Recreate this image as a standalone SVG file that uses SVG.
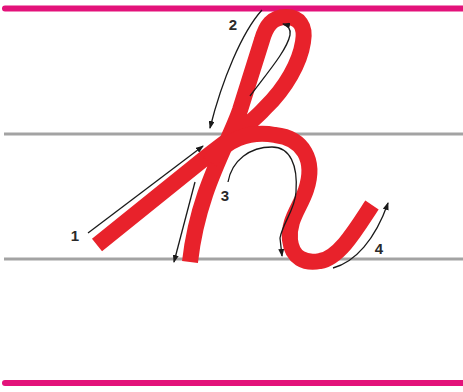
<svg xmlns="http://www.w3.org/2000/svg" width="463" height="392" viewBox="0 0 463 392">
<style>
.pink{stroke:#e3127a;stroke-width:6;stroke-linecap:round}
.gray{stroke:#a3a3a3;stroke-width:3}
.red{fill:none;stroke:#e8222b;stroke-width:16;stroke-linejoin:round;stroke-linecap:butt}
.arr{fill:none;stroke:#1a1a1a;stroke-width:1.3;marker-end:url(#ah)}
.lbl{font-family:"Liberation Sans",Arial,sans-serif;font-size:15px;font-weight:bold;fill:#2a2a2a;text-anchor:middle}
</style>
<defs>
<marker id="ah" markerWidth="8" markerHeight="6" refX="7" refY="3" orient="auto" markerUnits="userSpaceOnUse">
<path d="M0,0 L8,3 L0,6 Z" fill="#1a1a1a"/>
</marker>
</defs>
<g id="guides">
<line class="pink" x1="5" y1="8.5" x2="463" y2="8.5"/>
<line class="gray" x1="4" y1="134" x2="463" y2="134"/>
<line class="gray" x1="4" y1="259" x2="463" y2="259"/>
<line class="pink" x1="5" y1="383" x2="463" y2="383"/>
</g>
<g id="letter">
<path class="red" d="M97,245 L205,158 C225,142 250,125 265,108 C286,88 300,62 303,42 C306,26 299,17 286,17 C272,17 266,26 262,40 C255,62 248,85 240,110 C228,145 198,190 190,262"/>
<path class="red" d="M210,162 C224,140 250,130 275,135 C303,138 316,160 306,190 C300,208 288,220 290,240 C292,258 305,264 320,261 C340,258 358,226 372,205"/>
</g>
<g id="connectors">
<path class="arr" d="M88,233 L203,146"/>
<path class="arr" d="M250,96 C268,72 287,50 290,35 C291,28 287,25 283,24"/>
<path class="arr" d="M262,10 C242,32 222,80 210,128"/>
<path class="arr" d="M195,182 L174,262"/>
<path class="arr" d="M228,182 C232,160 250,147 272,147 C290,147 298,165 296,192 C295,210 283,222 280,238 L282,256"/>
<path class="arr" d="M333,268 C355,262 375,240 388,203"/>
</g>
<g id="labels">
<text class="lbl" x="75" y="241">1</text>
<text class="lbl" x="233" y="30">2</text>
<text class="lbl" x="225" y="201">3</text>
<text class="lbl" x="379" y="254">4</text>
</g>
</svg>
